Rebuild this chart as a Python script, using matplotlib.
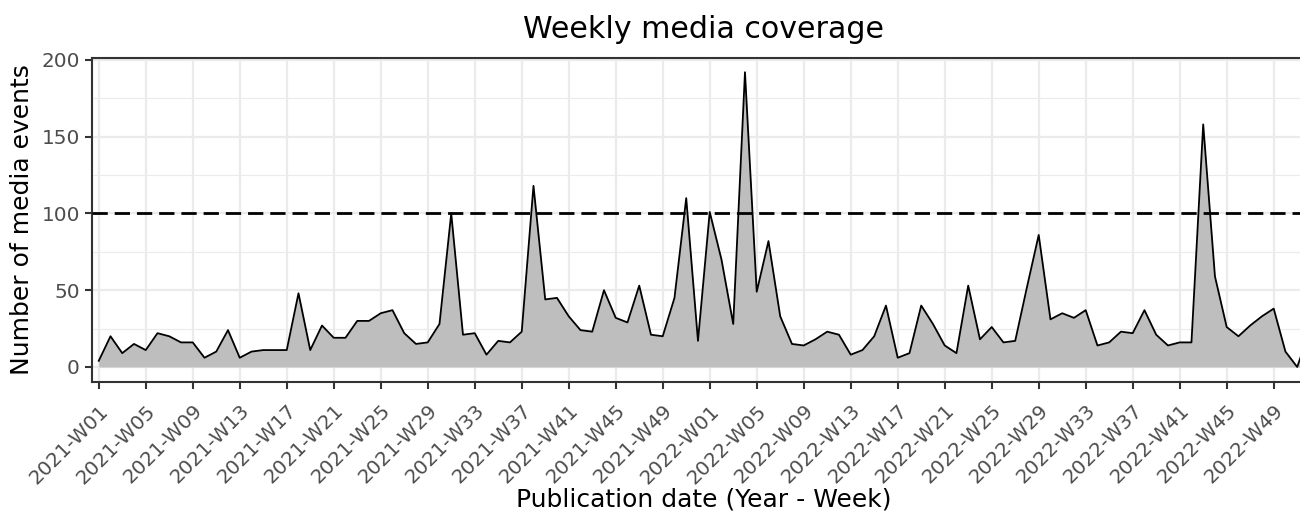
import numpy as np
import matplotlib.pyplot as plt

# weekly counts, 2021-W01 .. 2022-W52
counts_2021 = [4, 20, 9, 15, 11, 22, 20, 16, 16, 6,
               10, 24, 6, 10, 11, 11, 11, 48, 11, 27,
               19, 19, 30, 30, 35, 37, 22, 15, 16, 28,
               100, 21, 22, 8, 17, 16, 23, 118, 44, 45,
               33, 24, 23, 50, 32, 29, 53, 21, 20, 45,
               110, 17]
counts_2022 = [101, 70, 28, 192, 49, 82, 33, 15, 14, 18,
               23, 21, 8, 11, 20, 40, 6, 9, 40, 28,
               14, 9, 53, 18, 26, 16, 17, 52, 86, 31,
               35, 32, 37, 14, 16, 23, 22, 37, 21, 14,
               16, 16, 158, 59, 26, 20, 27, 33, 38, 10,
               0, 22]
weeks = [f"2021-W{w:02d}" for w in range(1, 53)] + [f"2022-W{w:02d}" for w in range(1, 53)]
counts = counts_2021 + counts_2022
threshold = 100

x = np.arange(len(weeks))
y = np.array(counts)

fig = plt.figure(figsize=(13, 5.13), dpi=100)
# panel runs a little past the right edge (reference is cropped there)
ax = fig.add_axes([91.7 / 1300, 131.3 / 513, (1316 - 91.7) / 1300, 324.2 / 513])

ax.fill_between(x, 0, y, color="#BEBEBE", linewidth=0, zorder=2)
ax.plot(x, y, color="black", linewidth=1.3, zorder=3)
ax.axhline(threshold, color="black", linestyle=(0, (5.5, 2.5)), linewidth=2.0, zorder=4)

ax.set_xlim(-0.6, len(weeks) - 0.4)
ax.set_ylim(-9.6, 201.6)

tick_idx = list(range(0, 52, 4)) + list(range(52, 104, 4))
ax.set_xticks(tick_idx)
ax.set_xticklabels([weeks[i] for i in tick_idx], rotation=45, ha="right",
                   rotation_mode="anchor", fontsize=14.4, color="#4D4D4D")
ax.set_yticks([0, 50, 100, 150, 200])
ax.set_yticks([25, 75, 125, 175], minor=True)
ax.tick_params(axis="y", labelsize=14.4, labelcolor="#4D4D4D")
ax.tick_params(axis="both", which="major", length=5, width=1.5, color="#333333")
ax.tick_params(axis="x", which="major", pad=9)
ax.tick_params(axis="y", which="minor", length=0)

ax.grid(which="major", color="#EBEBEB", linewidth=1.6, zorder=0)
ax.grid(which="minor", axis="y", color="#EBEBEB", linewidth=0.8, zorder=0)
ax.set_axisbelow(True)

for side in ["top", "left", "bottom"]:
    ax.spines[side].set_color("#333333")
    ax.spines[side].set_linewidth(1.5)
ax.spines["right"].set_visible(False)

ax.set_title("Weekly media coverage", fontsize=21.6, pad=14)
ax.set_xlabel("Publication date (Year - Week)", fontsize=18, labelpad=0)
ax.set_ylabel("Number of media events", fontsize=18, labelpad=5)

fig.savefig("out.png", dpi=100)
